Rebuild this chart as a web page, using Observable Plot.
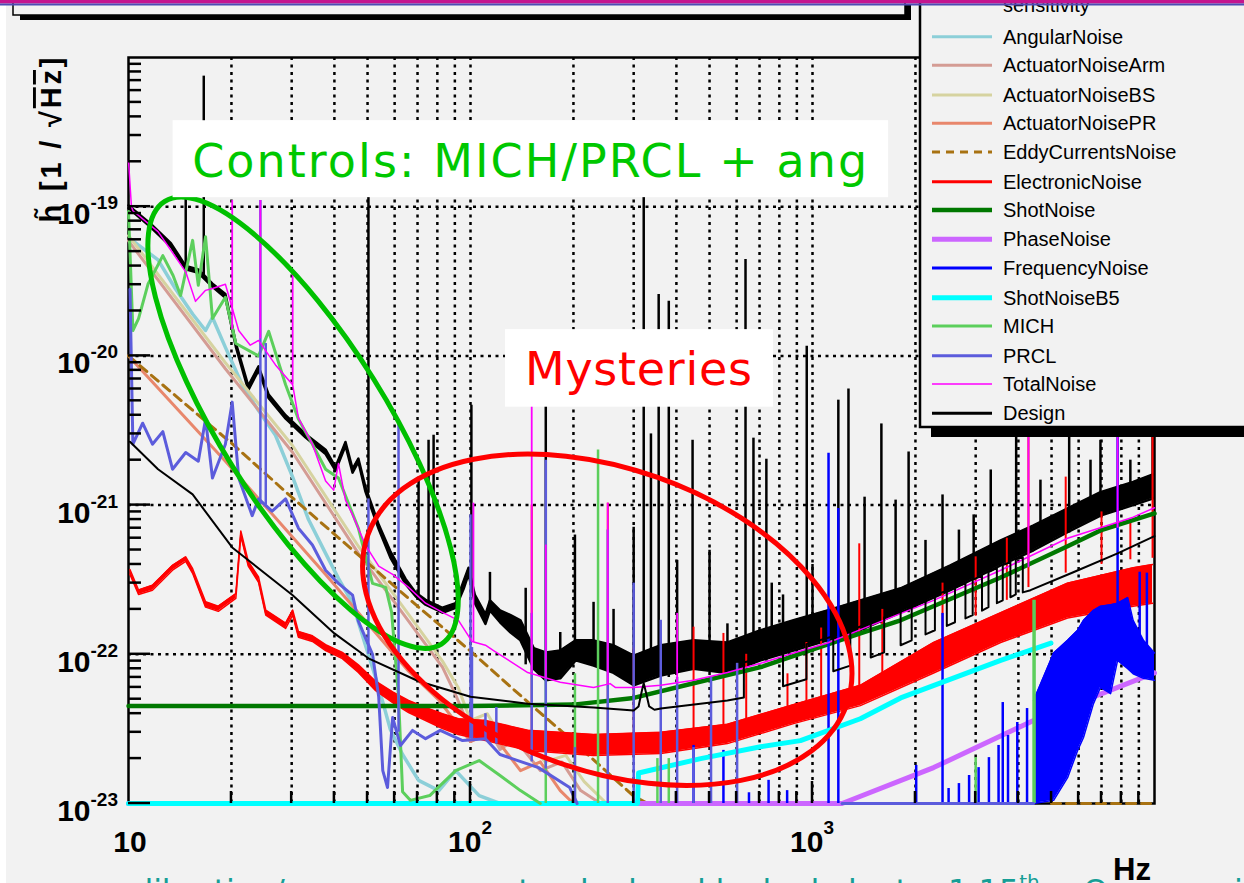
<!DOCTYPE html>
<html><head><meta charset="utf-8">
<script src="https://cdn.jsdelivr.net/npm/d3@7"></script>
<script src="https://cdn.jsdelivr.net/npm/@observablehq/plot@0.6"></script>
<style>
html,body{margin:0;padding:0;background:#f2f2f2;overflow:hidden;width:1244px;height:883px;}
svg{display:block;position:absolute;left:0;top:0;}
</style></head><body>
<script>
// ---------- DATA (frequency [Hz], strain [1/sqrt(Hz)]) ----------
// measured sensitivity: [f, lower envelope, upper envelope]
const sensitivity = [
[10,9.8e-20,1.02e-19],[11.6,7.3e-20,7.7e-20],[13.3,5.4e-20,5.7e-20],[14.7,3.8e-20,4.0e-20],[16.0,3.6e-20,3.8e-20],
[17.6,2.9e-20,3.05e-20],[19.2,2.45e-20,2.6e-20],[20.6,1.15e-20,1.22e-20],[22.4,5.9e-21,6.3e-21],[24.0,8.0e-21,8.5e-21],
[25.7,5.2e-21,5.5e-21],[28.8,3.8e-21,4.0e-21],[32.9,2.85e-21,3.0e-21],[37.7,2.2e-21,2.35e-21],[40.3,1.7e-21,1.8e-21],
[43.1,2.5e-21,2.65e-21],[45.2,1.65e-21,1.75e-21],[47.0,1.95e-21,2.05e-21],[49.3,1.23e-21,1.32e-21],[53.9,6.9e-22,7.4e-22],
[58.3,4.45e-22,4.9e-22],[64.6,2.95e-22,3.2e-22],[69.1,2.45e-22,2.6e-22],[73.9,2.15e-22,2.32e-22],[82.8,1.9e-22,2.05e-22],
[90.5,2.05e-22,2.2e-22],[95.5,2.75e-22,3.1e-22],[98.7,3.45e-22,3.8e-22],[103,2.2e-22,2.5e-22],[110.6,1.6e-22,1.85e-22],
[114,1.97e-22,2.3e-22],[122,1.64e-22,1.97e-22],[131,1.40e-22,1.83e-22],[140,1.24e-22,1.69e-22],[153,8.0e-23,1.10e-22],
[166,6.7e-23,1.03e-22],[183,6.9e-23,1.06e-22],[203,9.1e-23,1.24e-22],[229,8.4e-23,1.24e-22],[262,7.5e-23,1.15e-22],
[300,6.2e-23,9.8e-23],[360,7.2e-23,1.15e-22],[449,8.0e-23,1.24e-22],[564,7.5e-23,1.2e-22],[705,9.1e-23,1.45e-22],
[880,1.06e-22,1.69e-22],[1106,1.24e-22,1.97e-22],[1380,1.45e-22,2.3e-22],[1810,1.91e-22,2.77e-22],[2530,2.69e-22,3.95e-22],
[3550,3.95e-22,5.8e-22],[4430,4.98e-22,7.3e-22],[5570,6.6e-22,9.5e-22],[6950,8.5e-22,1.22e-21],[8660,1.0e-21,1.43e-21],
[9930,1.11e-21,1.61e-21]];
// sensitivity lines: [f, base, top]
const sensitivitySpikes = [
[14.7,3.7e-20,1.18e-19],[16.6,3.3e-20,7.5e-19],[50.3,1.2e-21,3e-19],[70.5,2.4e-22,1.54e-21],[75.4,2.1e-22,2.72e-21],
[78.0,2.0e-22,2.94e-21],[100.6,3.0e-22,4.67e-21],[114,1.9e-22,3.54e-22],[145,8.5e-23,2.77e-22],[166,7e-23,6.9e-21],
[183,7e-23,1.4e-22],[202,9e-23,6.3e-22],[229,8.5e-23,2.23e-22],[262,7.5e-23,2.0e-22],[300,6.5e-23,7.1e-22],
[321,7e-23,1.5e-19],[337,7e-23,3e-21],[355,7e-23,2.58e-20],[380,7e-23,2.32e-20],[402,7.5e-23,4.26e-22],
[446,8e-23,2.72e-21],[500,8e-23,4.98e-22],[564,7.5e-23,1.6e-22],[637,8.5e-23,4.43e-20],[672,8.5e-23,2.81e-21],
[733,9e-23,2.03e-21],[760,9.5e-23,3.0e-22],[820,1e-22,2.5e-22],[962,1.15e-22,1.16e-20],[1000,1.15e-22,4.0e-22],
[1190,1.3e-22,5.05e-21],[1274,1.35e-22,6.0e-21],[1420,1.45e-22,1.13e-21],[1590,1.6e-22,3.5e-21],[1750,1.8e-22,1.08e-21],
[1910,1.9e-22,2.27e-21],[2140,2.2e-22,5.8e-22],[2400,2.5e-22,1.17e-21],[2680,2.9e-22,6.8e-22],[2960,3.2e-22,8.6e-22],
[3320,3.6e-22,1.72e-21],[3940,4.5e-22,1e-20],[4640,5.2e-22,1.47e-21],[5630,6.5e-22,1e-20],[6500,8e-22,2.0e-21],
[6950,8.5e-22,2.72e-21],[8500,1e-21,2.0e-21],[9870,1.1e-21,1e-20]];
const angularNoise = [[10.1,6.1e-20],[12.2,4.4e-20],[13.7,2.83e-20],[15.4,1.91e-20],[16.8,1.48e-20],[17.6,1.81e-20],
[19.2,1.14e-20],[21.5,6.4e-21],[24.0,4.3e-21],[26.9,2.94e-21],[30.2,1.54e-21],[33.6,8.0e-22],[37.7,4.75e-22],
[41.1,3.23e-22],[45.2,2.2e-22],[49.3,1.15e-22],[53.9,6.0e-23],[58.3,3.13e-23],[63.3,2.13e-23],[70.5,1.43e-23],
[80.8,1.22e-23],[90.5,1.66e-23],[106,1.13e-23],[122,1.0e-23]];
const actuatorNoiseArm = [[10,5.9e-20],[19.2,8.2e-21],[30.2,2.25e-21],[47,4.75e-22],[65.9,1.67e-22],[82.8,8.2e-23],
[90,5.5e-23],[100,3.1e-23],[110,3.6e-23],[122,2.3e-23],[135,2.7e-23],[160,1.66e-23],[185,1.9e-23],[210,1.22e-23],[240,1.0e-23]];
const actuatorNoiseBS = [[10,6.4e-20],[19.2,9.0e-21],[30.2,2.5e-21],[47,5.3e-22],[65.9,1.85e-22],[82.8,9.0e-23],
[92,6.0e-23],[100,3.6e-23],[112,4.0e-23],[125,2.6e-23],[140,3.0e-23],[165,1.9e-23],[190,2.1e-23],[215,1.4e-23],[250,1.0e-23]];
const actuatorNoisePR = [[10,1.0e-20],[19.2,1.97e-21],[37.7,3.43e-22],[65.9,7.7e-23],[81,4.9e-23],[100,2.6e-23],
[115,3.0e-23],[140,1.66e-23],[160,1.9e-23],[183,1.22e-23],[200,1.0e-23]];
const eddyCurrentsNoise = [[10,1.0e-20],[20,2.6e-21],[30,1.13e-21],[50,4.1e-22],[70,2.1e-22],[100,1.05e-22],
[150,4.6e-23],[200,2.6e-23],[300,1.12e-23],[330,1.0e-23],[331,NaN],[5000,1.0e-23],[10000,1.0e-23]];
// electronic noise: [f, lower, upper]
const electronicNoise = [[10.1,3.43e-22,3.7e-22],[10.7,2.52e-22,2.7e-22],[11.75,2.69e-22,2.9e-22],[13.45,3.66e-22,3.95e-22],
[14.7,4.2e-22,4.5e-22],[15.4,3.49e-22,3.75e-22],[16.8,2.07e-22,2.25e-22],[18.3,1.94e-22,2.1e-22],[20.6,2.37e-22,2.55e-22],
[21.3,6.2e-22,6.7e-22],[22.4,3.9e-22,4.2e-22],[24.0,3.04e-22,3.3e-22],[25.2,1.83e-22,1.98e-22],[28.8,1.49e-22,1.62e-22],
[30.2,1.83e-22,1.98e-22],[31.4,1.3e-22,1.42e-22],[34.5,1.22e-22,1.33e-22],[37.7,1.06e-22,1.16e-22],[42.2,9.36e-23,1.03e-22],
[47.0,7.55e-23,8.5e-23],[52.8,5.7e-23,6.6e-23],[59.2,4.75e-23,5.6e-23],[65.9,4.07e-23,4.9e-23],[73.9,3.6e-23,4.4e-23],
[82.8,3.18e-23,4.0e-23],[92.2,2.9e-23,3.7e-23],[110.6,2.64e-23,3.6e-23],[147,2.27e-23,3.1e-23],[229,2.1e-23,2.9e-23],
[360,2.16e-23,3.0e-23],[564,2.52e-23,3.4e-23],[880,3.43e-23,4.6e-23],[1380,4.53e-23,6.2e-23],[2260,7.5e-23,1.2e-22],
[3550,1.2e-22,1.9e-22],[5570,1.75e-22,3.0e-22],[8660,2.1e-22,3.8e-22],[9870,2.2e-22,4.0e-22]];
const electronicSpikes = [[151,2.6e-23,1.0e-21],[252,2.2e-23,1.03e-21],[300,2.2e-23,1.1e-22],[449,2.5e-23,1.52e-22],
[549,2.7e-23,1.38e-22],[640,3.0e-23,1.0e-22],[845,3.8e-23,7.4e-23],[960,4.2e-23,1.2e-22],[1060,4.5e-23,1.5e-22],
[1370,6.0e-23,5.5e-22],[1600,7.0e-23,2.0e-22],[2400,1.3e-22,3.0e-22],[3000,1.8e-22,4.5e-22],[3700,2.3e-22,6.0e-22],
[4280,2.8e-22,3.2e-21],[5500,3.5e-22,1.54e-21],[7000,4.0e-22,9.0e-22],[8500,4.3e-22,8.0e-22],[9870,4.4e-22,3.2e-21]];
const shotNoise = [[10,4.5e-23],[100,4.5e-23],[200,4.6e-23],[300,5.1e-23],[449,6.4e-23],[705,8.2e-23],[1380,1.38e-22],
[1810,1.69e-22],[3550,3.27e-22],[5570,5.3e-22],[6950,6.76e-22],[10000,8.8e-22]];
const phaseNoise = [[10,1e-23],[1220,1e-23],[2260,1.74e-23],[4430,3.6e-23],[10000,7.5e-23]];
const frequencySpikes = [[449,1e-23,2.45e-23],[549,1e-23,2.27e-23],[652,1e-23,1.18e-23],[744,1e-23,1.43e-23],[843,1e-23,1.22e-23],
[1114,1e-23,2.23e-21],[1190,1e-23,9.5e-22],[2010,1e-23,1.8e-23],[2400,1e-23,1.88e-22],[2500,1e-23,1.26e-23],
[2680,1e-23,1.36e-23],[2870,1e-23,1.54e-23],[3060,1e-23,1.74e-23],[3280,1e-23,2.03e-23],[3500,1e-23,2.45e-23],
[3600,1e-23,4.75e-23],[3730,1e-23,2.86e-23],[3970,1e-23,3.49e-23],[4240,1e-23,4.33e-23],[7800,1.5e-22,2.86e-21],
[9050,1.2e-22,3.55e-22],[9500,1.1e-22,3.5e-22]];
const frequencyBand = [[4430,1.0e-23,4.9e-23],[5070,1.05e-23,1.02e-22],[5570,1.49e-23,1.24e-22],[5960,2.27e-23,1.45e-22],
[6200,2.77e-23,1.69e-22],[6630,4.67e-23,1.97e-22],[6950,6.0e-23,2.1e-22],[7440,5.45e-23,2.15e-22],[7800,9.1e-23,2.2e-22],
[8350,8.0e-23,2.4e-22],[8660,7.4e-23,1.69e-22],[9280,6.9e-23,1.24e-22],[10000,6.7e-23,1.02e-22]];
const shotNoiseB5 = [[10,1e-23],[308,1e-23],[310,1.6e-23],[471,2.0e-23],[705,2.4e-23],[922,2.64e-23],[1380,3.7e-23],
[1810,5.1e-23],[3550,9.1e-23],[4980,1.19e-22]];
const mich = [[10,9.3e-20],[10.3,1.48e-20],[10.7,1.78e-20],[11.4,3.02e-20],[12.6,4.7e-20],[13.5,3.46e-20],[14.2,2.54e-20],
[15.4,5.95e-20],[16.0,2.97e-20],[16.8,6.3e-20],[17.6,1.78e-20],[19.2,2.47e-20],[20.6,1.21e-20],[24.0,1.0e-20],
[25.7,1.46e-20],[28.8,6.4e-21],[31.4,3.77e-21],[34.5,2.56e-21],[37.7,1.74e-21],[41.1,1.52e-21],[47,7.0e-22],
[51.7,2.99e-22],[56.5,2.81e-22],[58.8,1.91e-22],[61.6,5.2e-23],[63.3,1.2e-23],[66.7,1.05e-23],[76,1.13e-23],
[90.5,1.66e-23],[106,1.94e-23],[122,1.54e-23],[140,1.22e-23],[160,1.0e-23]];
const michSpikes = [[166,1e-23,5.5e-22],[202,1e-23,7.4e-23],[236,1e-23,2.34e-21],[352,1e-23,2.0e-23],[380,1e-23,2.0e-23],
[3000,1e-23,2.03e-23],[4430,1e-23,2.3e-22],[4460,1e-23,2.3e-22]];
const prcl = [[10.1,2.8e-20],[10.3,2.56e-21],[11.0,3.54e-21],[11.75,2.56e-21],[12.6,3.11e-21],[13.45,1.74e-21],[14.7,2.25e-21],
[16.0,1.97e-21],[16.8,3.77e-21],[17.6,1.52e-21],[19.2,2.56e-21],[20.1,4.9e-21],[21.0,1.52e-21],[23.0,8.5e-22],[24.0,1.1e-21],
[26.3,9.1e-22],[28.8,1.1e-21],[31.4,7.0e-22],[34.5,5.4e-22],[37.7,3.66e-22],[41.1,2.99e-22],[45.2,2.49e-22],[47.0,1.67e-22],
[51.7,1.0e-22],[53.9,5.2e-23],[55.4,1.66e-23],[57.2,1.28e-23],[59.2,3.77e-23],[62.4,2.45e-23],[67.7,3.09e-23],[73.9,2.72e-23],
[81.6,3.09e-23],[94.8,2.64e-23],[110.6,2.72e-23],[122,2.13e-23],[158,1.74e-23],[195,1.28e-23],[205,1.0e-23],[206,NaN],
[1220,1.0e-23],[4430,1.0e-23]];
const prclSpikes = [[24.3,1.0e-21,1.1e-19],[25.2,1.0e-21,1.21e-20],[50.3,1.0e-22,1.1e-21],[61.6,3.0e-23,3.54e-21],
[100,2.7e-23,8.6e-22],[101,2.7e-23,1.11e-22],[110.6,2.7e-23,4.0e-23],[119,2.5e-23,4.4e-23],[151,1.9e-23,1.88e-22],
[166,1.7e-23,2.0e-21],[202,1.0e-23,2.37e-23],[252,1.0e-23,6.8e-22],[300,1.0e-23,3.0e-22],[360,1.0e-23,1.69e-22],
[402,1.0e-23,7.0e-23],[449,1.0e-23,2.37e-23],[505,1.0e-23,7.0e-23],[602,1.0e-23,8.7e-23]];
const totalNoise = [[10,2.03e-19],[10.2,1.0e-19],[10.3,9.4e-20],[12.2,6.8e-20],[14.7,3.66e-20],[15.7,2.32e-20],[16.8,2.75e-20],
[17.6,2.83e-20],[19.2,3.02e-20],[21.0,1.48e-20],[22.7,1.18e-20],[24.0,1.27e-20],[26.9,8.7e-21],[30.2,6.4e-21],[31.4,3.83e-21],
[34.5,2.56e-21],[37.7,1.45e-21],[39.8,1.26e-21],[41.1,1.9e-21],[43.1,1.08e-21],[45.2,8.6e-22],[49.3,5.4e-22],[53.9,3.9e-22],
[59.2,3.43e-22],[65.9,2.81e-22],[73.9,2.2e-22],[82.8,1.91e-22],[92.2,1.69e-22],[101,1.22e-22],[110.6,1.15e-22],[116.8,1.06e-22],
[147,7.55e-23],[183,6.5e-23],[229,6.0e-23],[256,6.36e-23],[265,6.0e-23],[300,6.0e-23],[360,6.2e-23],[449,6.7e-23],
[564,7.55e-23],[705,8.7e-23],[880,1.02e-22],[1106,1.19e-22],[1440,1.52e-22],[2260,2.3e-22],[3550,3.66e-22],[5570,6.0e-22],
[8660,8.3e-22],[10000,9.6e-22]];
const totalNoiseSpikes = [[20.1,1.5e-20,1.1e-19],[24.3,1.3e-20,1.1e-19],[30.2,6.4e-21,3.74e-20],[102,1.2e-22,1.03e-21],
[151,7.5e-23,1.37e-20],[166,7.0e-23,5.4e-22],[252,6.2e-23,1.03e-21],[402,6.5e-23,1.88e-22],[4280,3.8e-22,3.18e-21],
[7800,7.0e-22,2.86e-21]];
const design = [[10.1,2.66e-21],[12.2,1.74e-21],[15.4,1.18e-21],[20.1,5.2e-22],[30.2,2.49e-22],[40,1.38e-22],[50.3,9.4e-23],
[70.5,6.6e-23],[100,5.2e-23],[147,4.67e-23],[229,4.4e-23],[300,4.2e-23],[310,4.47e-23],[317,5.7e-23],[321,6.4e-23],
[325,5.7e-23],[333,4.47e-23],[345,4.25e-23],[360,4.33e-23],[564,4.9e-23],[630,5.13e-23],[630,8.8e-23],[820,1.05e-22],
[820,6.1e-23],[960,6.8e-23],[960,1.17e-22],[1150,1.32e-22],[1150,7.7e-23],[1290,8.4e-23],[1290,1.45e-22],[1480,1.63e-22],
[1480,9.5e-23],[1620,1.03e-22],[1620,1.77e-22],[1810,1.98e-22],[1810,1.15e-22],[1950,1.24e-22],[1950,2.13e-22],
[2140,2.34e-22],[2140,1.36e-22],[2280,1.45e-22],[2280,2.49e-22],[2470,2.67e-22],[2470,1.55e-22],[2610,1.64e-22],
[2610,2.82e-22],[2800,2.99e-22],[2800,1.74e-22],[2940,1.83e-22],[2940,3.15e-22],[3130,3.37e-22],[3130,1.96e-22],
[3270,2.07e-22],[3270,3.56e-22],[3460,3.78e-22],[3460,2.2e-22],[3600,2.3e-22],[3600,3.96e-22],[3790,4.15e-22],
[3790,2.41e-22],[3930,2.52e-22],[3930,4.33e-22],[4120,4.47e-22],[4120,2.6e-22],[4340,2.69e-22],[5790,3.55e-22],
[7800,4.75e-22],[10000,6.2e-22]];

// axis ticks / grid
const xGrid = [20,30,40,50,60,70,80,90,100,200,300,400,500,600,700,800,900,1000,2000,3000,4000,5000,6000,7000,8000,9000];
const yGrid = [1e-22,1e-21,1e-20,1e-19];
const xMajorTicks = [100,1000];
const xTickValues = [10,100,1000];
const xTickExponents = ["","2","3"];
const yTickValues = [1e-19,1e-20,1e-21,1e-22,1e-23];
const yTickExponents = ["-19","-20","-21","-22","-23"];
const yDecades = [-23,-22,-21,-20,-19];
const legendNames = ["AngularNoise","ActuatorNoiseArm","ActuatorNoiseBS","ActuatorNoisePR","EddyCurrentsNoise",
"ElectronicNoise","ShotNoise","PhaseNoise","FrequencyNoise","ShotNoiseB5","MICH","PRCL","TotalNoise","Design"];

// annotations (anchored in data coordinates)
const annotationBoxes = [
  {text:"Controls: MICH/PRCL + ang", f0:13.5, f1:1669, h0:3.77e-19, h1:1.15e-19, tf:15.4, th:1.56e-19, color:"#00c800", len:675},
  {text:"Mysteries", f0:126.6, f1:769, h0:1.5e-20, h1:4.53e-21, tf:144.8, th:6.3e-21, color:"#ff0000", len:227}
];
const annotationEllipses = [
  {f:32.5, h:3.54e-21, rx:261, ry:83, angle:58, color:"#00c000"},
  {f:252, h:1.69e-22, rx:254, ry:151, angle:19.5, color:"#ff0000"}
];

// ---------- STYLES ----------
const colors = {
  sensitivity:"#000000", AngularNoise:"#8ccfd8", ActuatorNoiseArm:"#d49c94", ActuatorNoiseBS:"#d6d3a0",
  ActuatorNoisePR:"#e8876c", EddyCurrentsNoise:"#a87212", ElectronicNoise:"#ff0000", ShotNoise:"#007800",
  PhaseNoise:"#cc66ff", FrequencyNoise:"#0000ff", ShotNoiseB5:"#00ffff", MICH:"#5ccf5c", PRCL:"#5c5cdc",
  TotalNoise:"#ff00ff", Design:"#000000"
};
const legendWidth = {AngularNoise:3,ActuatorNoiseArm:3,ActuatorNoiseBS:3,ActuatorNoisePR:3,EddyCurrentsNoise:3,
  ElectronicNoise:3,ShotNoise:4.5,PhaseNoise:5,FrequencyNoise:3,ShotNoiseB5:5,MICH:3,PRCL:3,TotalNoise:1.5,Design:3};
const legendRows = [36.7,65.3,95,123.3,152,181.7,210,239.3,268,297.7,326,355.7,384,413.3];

const X = d => d[0];
function line(data, key, w, extra = {}) {
  return Plot.line(data, {x: X, y: d => d[1], stroke: colors[key], strokeWidth: w, ...extra});
}
function spikes(data, key, w) {
  return Plot.ruleX(data, {x: X, y1: d => d[1], y2: d => d[2], stroke: colors[key], strokeWidth: w});
}
function band(data, key, w) {
  return [
    Plot.areaY(data, {x: X, y1: d => d[1], y2: d => d[2], fill: colors[key]}),
    Plot.line(data, {x: X, y: d => d[1], stroke: colors[key], strokeWidth: w}),
    Plot.line(data, {x: X, y: d => d[2], stroke: colors[key], strokeWidth: w})
  ];
}

const dotted = {stroke: "#000", strokeWidth: 2.5, strokeDasharray: "3,4.5"};
const plot = Plot.plot({
  width: 1244, height: 883,
  marginTop: 57, marginRight: 90, marginBottom: 80, marginLeft: 128,
  x: {type: "log", domain: [10, 10000], axis: null},
  y: {type: "log", domain: [1e-23, 1e-18], axis: null},
  style: {background: "#f2f2f2", overflow: "visible", fontFamily: "'Liberation Sans', Arial, sans-serif"},
  marks: [
    Plot.ruleX(xGrid, dotted),
    Plot.ruleY(yGrid, dotted),
    Plot.frame({stroke: "#000", strokeWidth: 2.5}),
    band(sensitivity, "sensitivity", 2.5),
    spikes(sensitivitySpikes, "sensitivity", 2.5),
    line(angularNoise, "AngularNoise", 3.5),
    line(actuatorNoiseArm, "ActuatorNoiseArm", 3),
    line(actuatorNoiseBS, "ActuatorNoiseBS", 3),
    line(actuatorNoisePR, "ActuatorNoisePR", 3),
    line(eddyCurrentsNoise, "EddyCurrentsNoise", 3, {strokeDasharray: "9,6"}),
    band(electronicNoise, "ElectronicNoise", 1.5),
    spikes(electronicSpikes, "ElectronicNoise", 2),
    line(shotNoise, "ShotNoise", 4.5),
    line(phaseNoise, "PhaseNoise", 5),
    spikes(frequencySpikes, "FrequencyNoise", 2.5),
    band(frequencyBand, "FrequencyNoise", 1.5),
    line(shotNoiseB5, "ShotNoiseB5", 5),
    line(mich, "MICH", 3),
    spikes(michSpikes, "MICH", 2.5),
    line(prcl, "PRCL", 3),
    spikes(prclSpikes, "PRCL", 2.5),
    line(totalNoise, "TotalNoise", 1.5),
    spikes(totalNoiseSpikes, "TotalNoise", 1.8),
    line(design, "Design", 2)
  ]
});
document.body.appendChild(plot);

const xs = plot.scale("x"), ys = plot.scale("y");
const svg = d3.select(plot);
const [xL, xR] = xs.range;
const yB = ys.range[0];
const SANS = "'Liberation Sans', Arial, sans-serif";
const WIDE = "'DejaVu Sans', Verdana, sans-serif";

// ticks
const tg = svg.append("g").attr("stroke", "#000").attr("stroke-width", 2.5);
yDecades.forEach(e => {
  for (let m = 1; m <= 9; m++) {
    const y = ys.apply(m * Math.pow(10, e));
    tg.append("line").attr("x1", xL).attr("x2", xL + (m === 1 ? 22 : 13)).attr("y1", y).attr("y2", y);
  }
});
xGrid.forEach(v => {
  const x = xs.apply(v);
  const len = xMajorTicks.includes(v) ? 22 : 12;
  tg.append("line").attr("x1", x).attr("x2", x).attr("y1", yB).attr("y2", yB - len);
});

// annotation ellipses
annotationEllipses.forEach(e => {
  const cx = xs.apply(e.f), cy = ys.apply(e.h);
  svg.append("ellipse").attr("cx", cx).attr("cy", cy).attr("rx", e.rx).attr("ry", e.ry)
    .attr("transform", `rotate(${e.angle} ${cx} ${cy})`).attr("fill", "none").attr("stroke", e.color).attr("stroke-width", 5);
});
// annotation boxes
annotationBoxes.forEach(b => {
  const x0 = xs.apply(b.f0), x1 = xs.apply(b.f1), y0 = ys.apply(b.h0), y1 = ys.apply(b.h1);
  svg.append("rect").attr("x", x0).attr("y", y0).attr("width", x1 - x0).attr("height", y1 - y0).attr("fill", "#ffffff");
  svg.append("text").attr("x", xs.apply(b.tf)).attr("y", ys.apply(b.th)).attr("fill", b.color)
    .attr("text-anchor", "start").attr("font-family", WIDE).attr("font-size", 46)
    .attr("textLength", b.len).attr("lengthAdjust", "spacing").text(b.text);
});

// legend
const lg = svg.append("g").attr("text-anchor", "start");
lg.append("rect").attr("x", 931).attr("y", 426).attr("width", 330).attr("height", 11).attr("fill", "#000");
lg.append("rect").attr("x", 920).attr("y", -10).attr("width", 340).attr("height", 437).attr("fill", "#f2f2f2").attr("stroke", "#000").attr("stroke-width", 2.5);
lg.append("text").attr("x", 1003).attr("y", 12).attr("font-family", SANS).attr("font-size", 20).text("sensitivity");
legendNames.forEach((n, i) => {
  const y = legendRows[i];
  const ln = lg.append("line").attr("x1", 932).attr("x2", 992).attr("y1", y).attr("y2", y)
    .attr("stroke", colors[n]).attr("stroke-width", legendWidth[n]);
  if (n === "EddyCurrentsNoise") ln.attr("stroke-dasharray", "8,6");
  lg.append("text").attr("x", 1003).attr("y", y + 7).attr("font-family", SANS)
    .attr("font-size", 20).attr("fill", "#000").text(n);
});

// page decorations (slide frame)
svg.append("rect").attr("x", 0).attr("y", 5).attr("width", 6).attr("height", 878).attr("fill", "#ffffff");
svg.append("rect").attr("x", 20).attr("y", 15).attr("width", 891).attr("height", 5).attr("fill", "#000");
svg.append("rect").attr("x", 905).attr("y", 5).attr("width", 6).attr("height", 15).attr("fill", "#000");
svg.append("rect").attr("x", 13).attr("y", -10).attr("width", 892).attr("height", 25).attr("fill", "#f2f2f2").attr("stroke", "#000").attr("stroke-width", 1.5);
svg.append("rect").attr("x", 0).attr("y", 0).attr("width", 1244).attr("height", 3.5).attr("fill", "#c4148e");
svg.append("rect").attr("x", 0).attr("y", 3.5).attr("width", 1244).attr("height", 2).attr("fill", "#4c4cb4");

// bottom slide text (cut off by the window edge, as on the slide)
const bt = svg.append("g").attr("font-family", WIDE).attr("fill", "#169e96").attr("font-size", 32).attr("text-anchor", "start");
bt.append("text").attr("x", 108).attr("y", 902).attr("textLength", 800).attr("lengthAdjust", "spacing")
  .text("calibration/ response was tracked and looked ok at");
const bt2 = bt.append("text").attr("x", 948).attr("y", 902).text("1.15");
bt2.append("tspan").attr("dy", -13).attr("font-size", 20).text("th");
bt2.append("tspan").attr("x", 1083).attr("dy", 13).text("Order");
bt2.append("tspan").attr("x", 1234).text("i");

// tick labels and axis titles (on top)
const lab = svg.append("g").attr("font-family", SANS).attr("font-weight", "bold").attr("fill", "#000");
yTickValues.forEach((v, i) => {
  const y = ys.apply(v);
  const t = lab.append("text").attr("x", 118).attr("y", y + 18).attr("text-anchor", "end").attr("font-size", 30).text("10");
  t.append("tspan").attr("dy", -15).attr("font-size", 19).text(yTickExponents[i]);
});
xTickValues.forEach((v, i) => {
  const x = xs.apply(v) + (i === 0 ? 2 : 0);
  const t = lab.append("text").attr("x", x).attr("y", yB + 49).attr("text-anchor", "middle").attr("font-size", 30).text("10");
  if (xTickExponents[i]) t.append("tspan").attr("dy", -18).attr("font-size", 19).text(xTickExponents[i]);
});
const yt = lab.append("text").attr("transform", "translate(61,140) rotate(-90)").attr("text-anchor", "middle")
  .attr("font-size", 29).attr("textLength", 165).attr("lengthAdjust", "spacing");
yt.append("tspan").text("h\u0303 [1 / \u221A");
yt.append("tspan").attr("text-decoration", "overline").text("Hz");
yt.append("tspan").text("]");
lab.append("rect").attr("x", 1111).attr("y", 853).attr("width", 41).attr("height", 30).attr("fill", "#f2f2f2");
lab.append("text").attr("x", 1113).attr("y", 880).attr("text-anchor", "start").attr("font-size", 32)
  .attr("textLength", 38).attr("lengthAdjust", "spacingAndGlyphs").text("Hz");
</script>
</body></html>
